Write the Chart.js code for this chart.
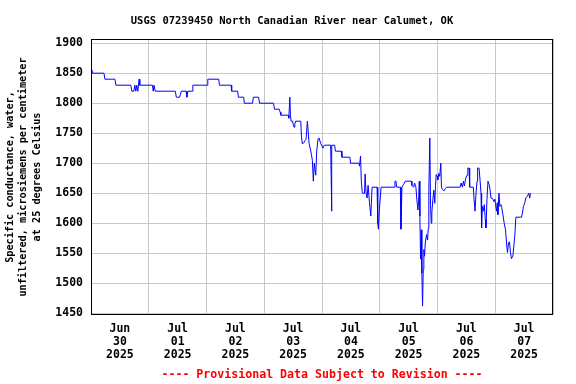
<!DOCTYPE html>
<html>
<head>
<meta charset="utf-8">
<script src="https://cdn.jsdelivr.net/npm/chart.js@4"></script>
<style>
  html, body { margin: 0; padding: 0; background: #fff; }
  #wrap { width: 576px; height: 384px; }
</style>
</head>
<body>
<div id="wrap"><canvas id="myChart" width="576" height="384"></canvas></div>
<script>
// hours since Jun 30 2025 00:00 and specific conductance (uS/cm)
const hours = [0, 0.4, 5.38, 5.79, 9.93, 10.34, 16.55, 16.97, 17.79, 18.21, 18.62, 19.03, 19.45, 19.99, 20.28,
  25.53, 25.86, 26.19, 26.69, 35.05, 35.46, 36.83, 37.53, 39.52, 39.85, 40.26, 42.0, 42.33, 48.29, 48.54,
  53.09, 53.38, 58.22, 58.47, 60.95, 61.24, 63.43, 63.72, 67.16, 67.45, 69.64, 70.06, 75.85, 76.26, 78.21,
  78.62, 78.91, 82.05, 82.22, 82.63, 82.88, 83.17, 83.79, 84.0, 84.41, 84.7, 85.03, 87.19, 87.43, 87.85,
  88.55, 88.97, 89.38, 89.92, 90.21, 90.62, 91.24, 91.57, 91.99, 92.4, 92.81, 93.39, 93.81, 94.34, 94.76,
  95.46, 96.41, 96.95, 99.6, 99.81, 99.93, 100.14, 101.25, 101.59, 103.99, 104.28, 107.59, 107.88, 111.31,
  111.6, 112.01, 112.34, 112.76, 113.67, 113.92, 114.33, 114.74, 115.16, 115.74, 116.28, 116.81, 118.88,
  119.17, 119.46, 119.79, 120.29, 120.54, 126.08, 126.33, 126.74, 127.03, 128.56, 128.81, 129.23, 129.93,
  130.63, 133.12, 133.37, 134.07, 134.48, 135.02, 135.43, 135.85, 136.14, 136.43, 136.67, 136.97, 137.25,
  137.5, 137.79, 138.08, 138.33, 138.62, 138.91, 139.45, 139.86, 140.15, 140.4, 140.81, 141.1, 141.39,
  141.64, 142.06, 142.47, 142.88, 143.17, 143.46, 143.88, 144.12, 144.54, 144.95, 145.37, 145.66, 146.07,
  146.69, 147.31, 147.72, 153.39, 153.8, 154.34, 154.76, 155.17, 155.71, 156.29, 156.62, 157.12, 157.37,
  158.9, 159.19, 159.6, 160.01, 160.43, 160.68, 161.26, 161.67, 162.08, 162.33, 162.62, 163.03, 163.45,
  163.86, 164.15, 164.56, 164.98, 165.39, 165.8, 166.22, 166.88, 167.46, 167.88, 168.12, 168.54, 168.83,
  169.12, 169.53, 169.94, 170.36, 170.61, 171.19, 171.72, 172.26, 172.68, 173.09, 173.5, 173.92, 174.33,
  174.74, 175.32, 175.74, 176.15, 176.57, 178.88, 179.3, 179.71, 180.29, 180.7, 181.37, 181.94, 182.36, 182.61];

const conductance = [1855, 1850, 1850, 1840, 1840, 1830, 1830, 1820, 1820, 1830, 1820, 1830, 1820, 1840, 1830,
  1830, 1820, 1830, 1820, 1820, 1810, 1810, 1820, 1820, 1810, 1820, 1820, 1830, 1830, 1840,
  1840, 1830, 1830, 1820, 1820, 1810, 1810, 1800, 1800, 1810, 1810, 1800, 1800, 1790, 1790,
  1785, 1780, 1780, 1775, 1810, 1780, 1770, 1770, 1765, 1760, 1765, 1770, 1770, 1745, 1732,
  1735, 1738, 1740, 1770, 1755, 1733, 1722, 1715, 1705, 1670, 1700, 1680, 1720, 1740, 1742,
  1733, 1725, 1730, 1730, 1678, 1620, 1730, 1730, 1720, 1720, 1710, 1710, 1700, 1700,
  1695, 1712, 1670, 1650, 1650, 1682, 1650, 1642, 1663, 1634, 1612, 1660, 1660,
  1600, 1590, 1620, 1645, 1660, 1660, 1670, 1670, 1660, 1660, 1590, 1660, 1665,
  1670, 1670, 1663, 1660, 1667, 1660, 1639, 1622, 1635, 1670, 1612, 1540, 1589,
  1517, 1462, 1523, 1556, 1545, 1567, 1581, 1572, 1591, 1655, 1742, 1630, 1600,
  1617, 1639, 1655, 1633, 1663, 1681, 1678, 1672, 1683, 1678, 1700, 1660, 1656,
  1654, 1658, 1660, 1660, 1667, 1660, 1670, 1662, 1675, 1680, 1692, 1692, 1660,
  1660, 1639, 1620, 1650, 1670, 1692, 1692, 1672, 1650, 1592, 1628, 1620, 1631,
  1606, 1592, 1640, 1670, 1665, 1657, 1642, 1641, 1636, 1640, 1631, 1620, 1634,
  1614, 1650, 1628, 1631, 1628, 1614, 1600, 1589, 1567, 1551, 1567, 1569, 1551,
  1541, 1545, 1562, 1581, 1610, 1610, 1617, 1628, 1634, 1642, 1645, 1650, 1642, 1650];

const dayLabels = [['Jun', '30', '2025'], ['Jul', '01', '2025'], ['Jul', '02', '2025'], ['Jul', '03', '2025'],
  ['Jul', '04', '2025'], ['Jul', '05', '2025'], ['Jul', '06', '2025'], ['Jul', '07', '2025']];
const yTicks = [1450, 1500, 1550, 1600, 1650, 1700, 1750, 1800, 1850, 1900];

const mono = '"DejaVu Sans Mono", "Liberation Mono", monospace';

const points = hours.map((h, i) => ({ x: h, y: conductance[i] }));

const frameAndText = {
  id: 'frameAndText',
  afterDraw(chart) {
    const ctx = chart.ctx
    const a = chart.chartArea
    ctx.save()
    ctx.strokeStyle = '#000'
    ctx.lineWidth = 1
    ctx.strokeRect(Math.round(a.left) + 0.5, Math.round(a.top) + 0.5, Math.round(a.right - a.left) - 1, Math.round(a.bottom - a.top) - 1)
    ctx.textAlign = 'center'
    ctx.textBaseline = 'middle'
    ctx.fillStyle = '#000'
    ctx.font = 'bold 10.5px ' + mono
    ctx.fillText('USGS 07239450 North Canadian River near Calumet, OK', 292, 21)
    ctx.fillStyle = '#ff0000'
    ctx.font = 'bold 11.6px ' + mono
    ctx.fillText('---- Provisional Data Subject to Revision ----', (a.left + a.right) / 2, 375)
    ctx.restore()
  }
};

new Chart(document.getElementById('myChart'), {
  type: 'line',
  data: {
    datasets: [{
      data: points,
      borderColor: '#0000ff',
      borderWidth: 1,
      pointRadius: 0,
      tension: 0,
      fill: false
    }]
  },
  options: {
    responsive: false,
    animation: false,
    layout: { padding: { left: 0, right: 23, top: 39, bottom: 0 } },
    plugins: { legend: { display: false }, tooltip: { enabled: false }, title: { display: false } },
    scales: {
      x: {
        type: 'linear',
        min: 0,
        max: 192,
        afterBuildTicks: s => { s.ticks = []; for (let h = 0; h <= 192; h += 12) s.ticks.push({ value: h }) },
        afterFit: s => { s.height = 69 },
        grid: {
          color: c => (c.tick && c.tick.value % 24 === 0) ? '#c8c8c8' : 'rgba(0,0,0,0)',
          drawTicks: false,
          lineWidth: 1
        },
        border: { display: false },
        ticks: {
          autoSkip: false,
          maxRotation: 0,
          padding: 8,
          color: '#000',
          font: { family: mono, size: 11.5, weight: 'bold', lineHeight: 1.13 },
          callback: v => (v % 24 === 12) ? dayLabels[(v - 12) / 24] : ''
        }
      },
      y: {
        type: 'linear',
        min: 1447,
        max: 1907,
        afterBuildTicks: s => { s.ticks = yTicks.map(v => ({ value: v })) },
        afterFit: s => { s.width = 91 },
        grid: { color: '#c8c8c8', drawTicks: false, lineWidth: 1 },
        border: { display: false },
        ticks: {
          padding: 8,
          color: '#000',
          font: { family: mono, size: 11.5, weight: 'bold' },
          callback: v => String(v)
        },
        title: {
          display: true,
          text: ['Specific conductance, water,', 'unfiltered, microsiemens per centimeter', 'at 25 degrees Celsius'],
          color: '#000',
          font: { family: mono, size: 10.2, weight: 'bold', lineHeight: 1.35 },
          padding: { top: 3, bottom: 0 }
        }
      }
    }
  },
  plugins: [frameAndText]
});
</script>
</body>
</html>
